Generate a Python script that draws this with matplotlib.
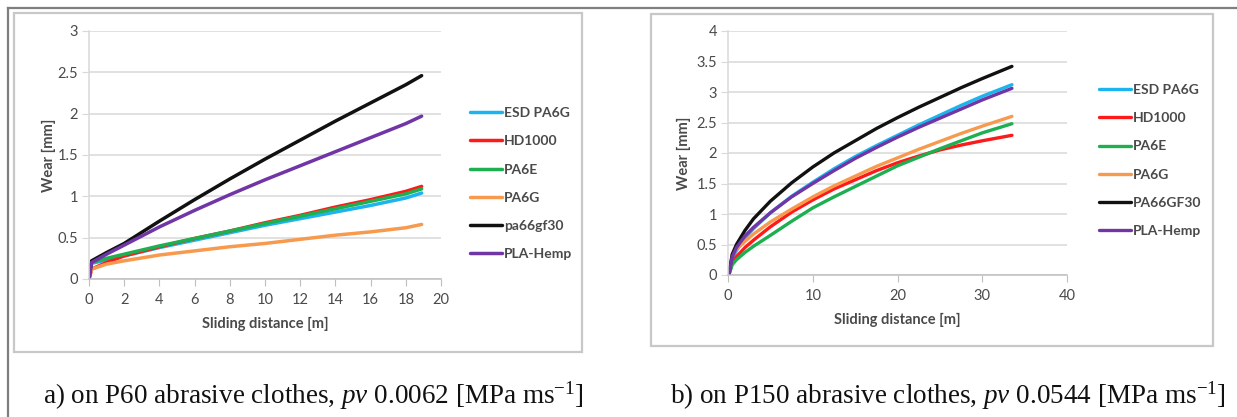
import matplotlib
matplotlib.use("Agg")
import matplotlib.pyplot as plt
from matplotlib.patches import Rectangle
from matplotlib.lines import Line2D

plt.rcParams['font.family'] = ['Lato', 'DejaVu Sans']
plt.rcParams['mathtext.fontset'] = 'custom'
plt.rcParams['mathtext.rm'] = 'Liberation Serif'
plt.rcParams['mathtext.it'] = 'Liberation Serif:italic'

# --- data a) P60 ---
dist_a = [0, 0.15, 1, 2, 4, 6, 8, 10, 12, 14, 16, 18, 18.9]
esd_a = [0, 0.19, 0.23, 0.28, 0.38, 0.47, 0.56, 0.65, 0.73, 0.81, 0.89, 0.98, 1.04]
hd_a = [0, 0.12, 0.20, 0.28, 0.39, 0.49, 0.58, 0.68, 0.77, 0.87, 0.96, 1.06, 1.12]
pa6e_a = [0, 0.20, 0.25, 0.30, 0.40, 0.49, 0.58, 0.67, 0.76, 0.85, 0.94, 1.03, 1.09]
pa6g_a = [0, 0.12, 0.18, 0.22, 0.29, 0.34, 0.39, 0.43, 0.48, 0.53, 0.57, 0.62, 0.66]
gf30_a = [0, 0.22, 0.32, 0.43, 0.70, 0.96, 1.21, 1.45, 1.68, 1.91, 2.13, 2.35, 2.46]
pla_a = [0, 0.20, 0.30, 0.41, 0.63, 0.83, 1.02, 1.20, 1.37, 1.54, 1.71, 1.88, 1.97]
labels_a = ['ESD PA6G', 'HD1000', 'PA6E', 'PA6G', 'pa66gf30', 'PLA-Hemp']

# --- data b) P150 ---
dist_b = [0.1, 0.5, 1, 2, 3, 5, 7.5, 10, 12.5, 15, 17.5, 20, 22.5, 25, 27.5, 30, 33.5]
esd_b = [0, 0.27, 0.40, 0.60, 0.76, 1.02, 1.29, 1.52, 1.74, 1.94, 2.12, 2.29, 2.46, 2.62, 2.78, 2.93, 3.12]
hd_b = [0, 0.20, 0.30, 0.45, 0.57, 0.79, 1.03, 1.23, 1.41, 1.56, 1.71, 1.84, 1.95, 2.05, 2.13, 2.20, 2.29]
pa6e_b = [0, 0.17, 0.25, 0.37, 0.47, 0.65, 0.88, 1.10, 1.28, 1.45, 1.62, 1.79, 1.93, 2.07, 2.20, 2.33, 2.48]
pa6g_b = [0, 0.33, 0.42, 0.55, 0.67, 0.87, 1.08, 1.28, 1.46, 1.62, 1.78, 1.92, 2.06, 2.19, 2.32, 2.44, 2.60]
gf30_b = [0, 0.34, 0.50, 0.73, 0.92, 1.21, 1.51, 1.77, 2.00, 2.20, 2.40, 2.58, 2.75, 2.91, 3.07, 3.22, 3.42]
pla_b = [0, 0.30, 0.45, 0.64, 0.78, 1.02, 1.28, 1.50, 1.71, 1.91, 2.09, 2.26, 2.42, 2.57, 2.72, 2.87, 3.06]
labels_b = ['ESD PA6G', 'HD1000', 'PA6E', 'PA6G', 'PA66GF30', 'PLA-Hemp']

colors = ['#1CB4EE', '#FF1A1A', '#1DAF50', '#F79A4E', '#111111', '#7136A5']
txt = '#4A4A4A'

W, H = 1237, 417
fig = plt.figure(figsize=(W / 100, H / 100), dpi=100)


def px(x0, y0, x1, y1):
    # pixel box -> figure fraction [left, bottom, width, height]
    return [x0 / W, 1 - y1 / H, (x1 - x0) / W, (y1 - y0) / H]


# outer frame lines and chart boxes
fig.add_artist(Line2D([8 / W, 1], [1 - 8 / H, 1 - 8 / H], color='#7F7F7F', lw=1.6))
fig.add_artist(Line2D([8 / W, 8 / W], [0, 1 - 8 / H], color='#7F7F7F', lw=1.6))
for b in [(14, 13, 582, 352), (651, 14, 1213, 346)]:
    r = px(*b)
    fig.add_artist(Rectangle((r[0], r[1]), r[2], r[3], transform=fig.transFigure,
                             fill=False, ec='#C8C8C8', lw=1.6))


def style(ax, xmax, xstep, ymax, ylpad):
    ax.set_xlim(0, xmax)
    ax.set_ylim(0, ymax)
    ax.set_xticks(range(0, xmax + 1, xstep))
    ax.set_yticks([i * 0.5 for i in range(int(ymax * 2) + 1)])
    ax.set_yticklabels(['%g' % (i * 0.5) for i in range(int(ymax * 2) + 1)])
    ax.grid(axis='y', color='#D9D9D9', lw=1.1)
    ax.set_axisbelow(True)
    for s in ['top', 'right']:
        ax.spines[s].set_visible(False)
    ax.spines['left'].set_color('#D9D9D9')
    ax.spines['bottom'].set_color('#BFBFBF')
    ax.spines['left'].set_linewidth(1.1)
    ax.spines['bottom'].set_linewidth(1.1)
    ax.tick_params(axis='x', length=5, color='#BFBFBF', labelsize=10.5, labelcolor=txt, pad=5)
    ax.tick_params(axis='y', length=5, color='#D9D9D9', labelsize=10.5, labelcolor=txt, pad=3)
    ax.set_xlabel('Sliding distance [m]', fontsize=10.5, fontweight='bold', color=txt, labelpad=7)
    ax.set_ylabel('Wear [mm]', fontsize=10.5, fontweight='bold', color=txt, labelpad=ylpad)


leg = dict(frameon=False, handlelength=2.3, handletextpad=0.15, labelspacing=1.17,
           borderpad=0, borderaxespad=0, labelcolor=txt, prop={'weight': 'bold', 'size': 10})

# chart a
ax1 = fig.add_axes(px(89, 31, 441, 279))
for y, c, l in zip([esd_a, hd_a, pa6e_a, pa6g_a, gf30_a, pla_a], colors, labels_a):
    ax1.plot(dist_a, y, color=c, lw=2.5, label=l, solid_capstyle='round')
style(ax1, 20, 2, 3, 1)
ax1.legend(loc='upper left', bbox_to_anchor=(470 / W, 1 - 107 / H), bbox_transform=fig.transFigure, **leg)

# chart b
ax2 = fig.add_axes(px(728, 31, 1067, 275))
for y, c, l in zip([esd_b, hd_b, pa6e_b, pa6g_b, gf30_b, pla_b], colors, labels_b):
    ax2.plot(dist_b, y, color=c, lw=2.4, label=l, solid_capstyle='round')
style(ax2, 40, 10, 4, 4)
ax2.legend(loc='upper left', bbox_to_anchor=(1099 / W, 1 - 84 / H), bbox_transform=fig.transFigure, **leg)

# captions
cap = dict(fontsize=19.5, family='Liberation Serif', color='#111111', va='center', ha='left')
fig.text(43 / W, 1 - 396 / H, r'a) on P60 abrasive clothes, $\mathit{pv}$ 0.0062 [MPa ms$^{\mathrm{-1}}$]', **cap)
fig.text(670 / W, 1 - 396 / H, r'b) on P150 abrasive clothes, $\mathit{pv}$ 0.0544 [MPa ms$^{\mathrm{-1}}$]', **cap)

fig.savefig('out.png', dpi=100)
